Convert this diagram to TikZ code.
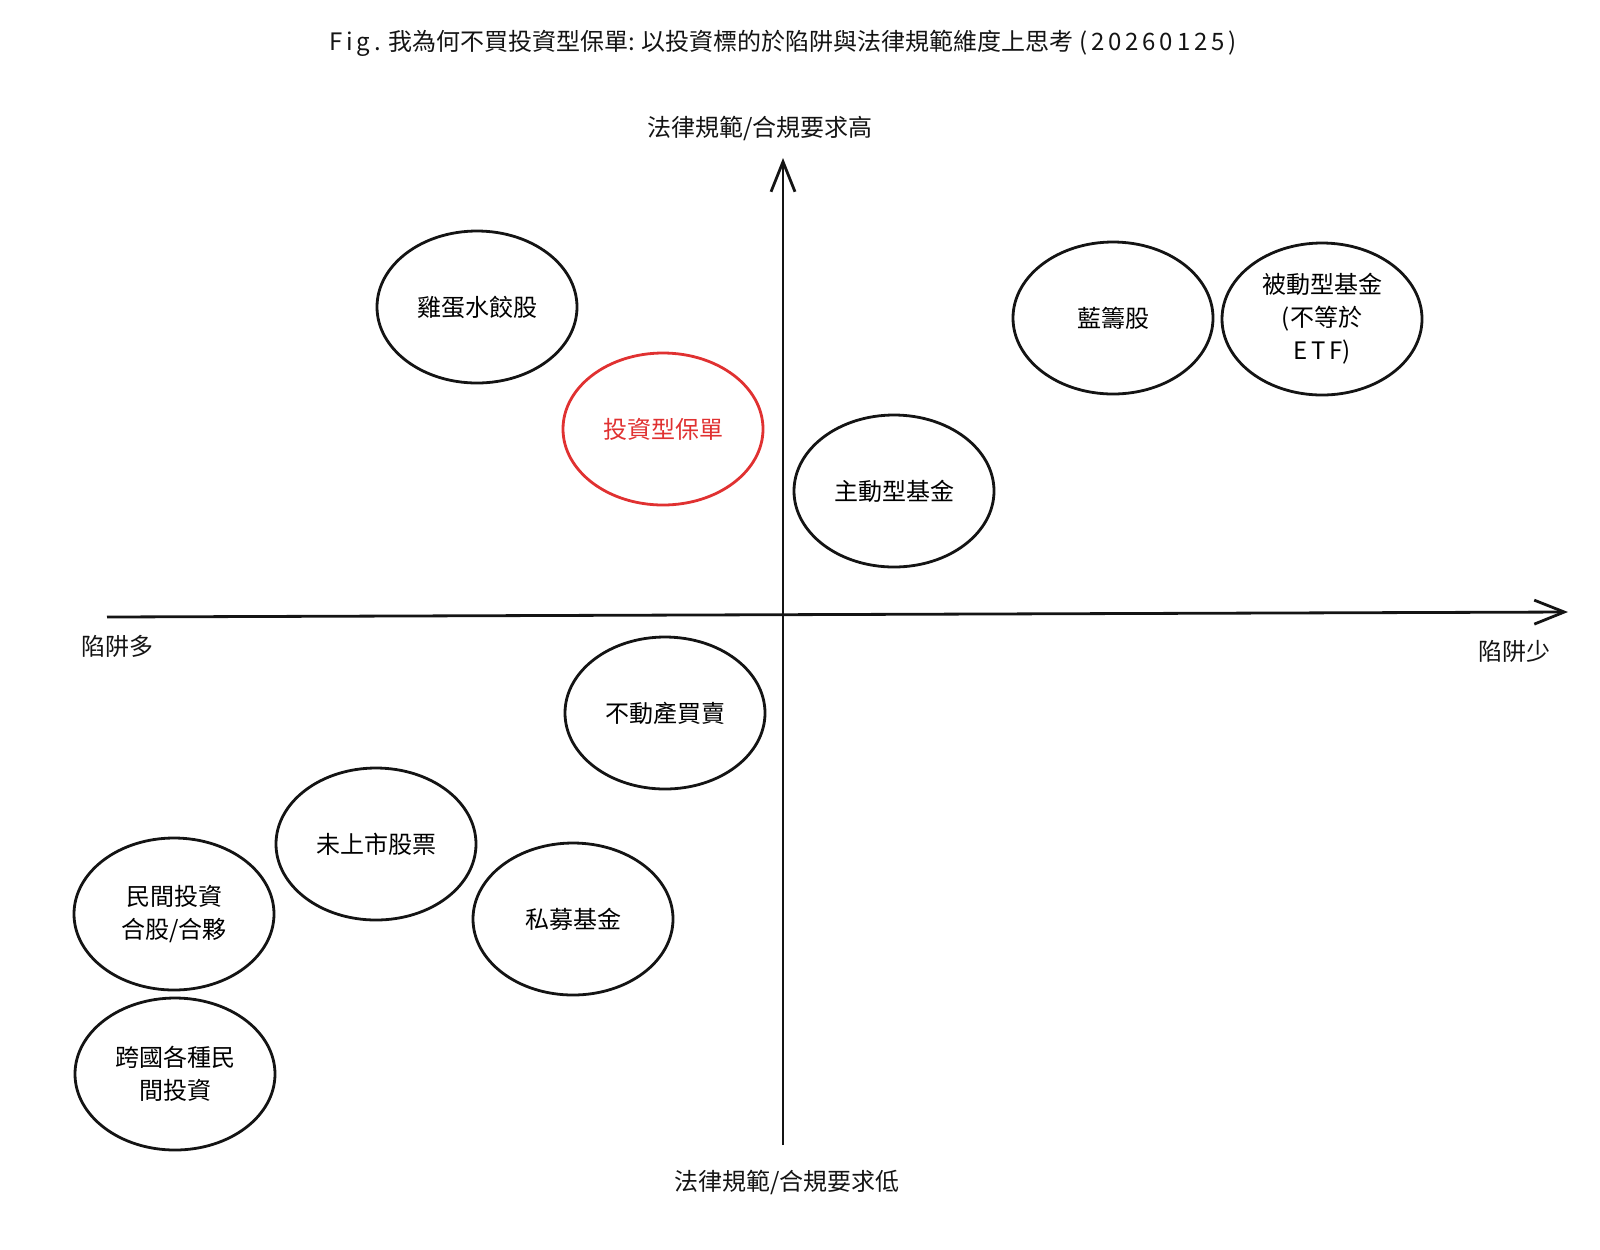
\documentclass[tikz,border=0pt]{standalone}
\usepackage{fontspec}
\setmainfont{Noto Sans CJK TC}
\newfontfamily\wideLatin[LetterSpace=16]{Noto Sans CJK TC}
\usetikzlibrary{arrows.meta,shapes.geometric}
\definecolor{SketchRed}{HTML}{E03131}
\colorlet{Ink}{black!92}
\newcommand{\wl}[1]{{\wideLatin #1}}

\begin{document}
\begin{tikzpicture}[
    x=0.5pt,y=-0.5pt,
    font=\fontsize{12}{16.5}\selectfont,
    bubble/.style={draw=Ink,ellipse,line width=1.4pt,minimum width=100pt,minimum height=76pt,inner sep=0pt,align=center},
    focus/.style={bubble,draw=SketchRed,text=SketchRed},
    axis/.style={line width=1.4pt,Ink,-{Straight Barb[length=15pt,width=12pt]}},
    caption/.style={inner sep=0pt,text=Ink}
  ]
    \useasboundingbox (0,0) rectangle (1600,1249);
    \node[caption] (title) at (783,43) {\wl{Fig.} 我為何不買投資型保單: 以投資標的於陷阱與法律規範維度上思考 \wl{(20260125)}};

    % axes
    \coordinate (xmin) at (107,617);
    \coordinate (xmax) at (1568,612);
    \coordinate (ymin) at (783,1145);
    \coordinate (ymax) at (783,158);
    \draw[axis] (xmin) -- (xmax);
    \draw[axis] (ymin) -- (ymax);
    \node[caption] (high) at (760,128) {法律規範/合規要求高};
    \node[caption] (low) at (787,1182) {法律規範/合規要求低};
    \node[caption] (many) at (117,646) {陷阱多};
    \node[caption] (few) at (1514,651) {陷阱少};

    % investment targets
    \node[bubble] (eggs) at (477,307) {雞蛋水餃股};
    \node[focus] (policy) at (663,429) {投資型保單};
    \node[bubble] (active) at (894,491) {主動型基金};
    \node[bubble] (bluechip) at (1113,318) {藍籌股};
    \node[bubble] (passive) at (1322,319) {被動型基金\\(不等於\\\wl{ETF})};
    \node[bubble] (estate) at (665,713) {不動產買賣};
    \node[bubble] (unlisted) at (376,844) {未上市股票};
    \node[bubble] (private) at (573,919) {私募基金};
    \node[bubble] (partner) at (174,914) {民間投資\\合股/合夥};
    \node[bubble] (abroad) at (175,1074) {跨國各種民\\間投資};
  \end{tikzpicture}
\end{document}
